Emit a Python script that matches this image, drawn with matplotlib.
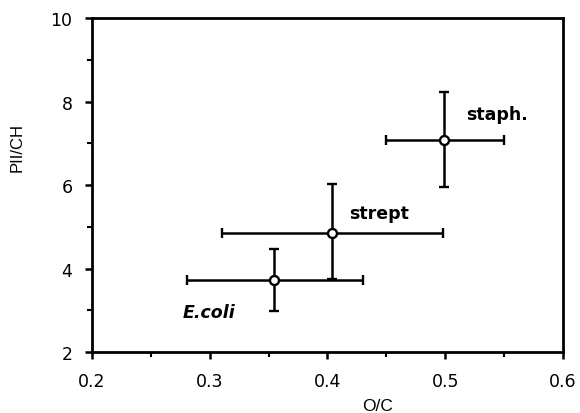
import matplotlib
matplotlib.use("Agg")
import matplotlib.pyplot as plt
from matplotlib.ticker import MultipleLocator

plt.rcParams['font.family'] = ['DejaVu Sans']

labels = ["E.coli", "strept", "staph."]
oc = [0.355, 0.404, 0.499]
pii_ch = [3.72, 4.86, 7.08]
oc_lo = [0.281, 0.310, 0.450]
oc_hi = [0.430, 0.498, 0.550]
y_lo = [2.98, 3.74, 5.95]
y_hi = [4.48, 6.03, 8.22]
label_x = [0.277, 0.418, 0.518]
label_y = [2.97, 5.33, 7.70]
label_style = ["italic", "normal", "normal"]

fig = plt.figure(figsize=(5.8, 4.14), dpi=100)
ax = fig.add_axes([0.1586, 0.147, 0.812, 0.807])

xerr = [[c - l for c, l in zip(oc, oc_lo)], [h - c for c, h in zip(oc, oc_hi)]]
yerr = [[c - l for c, l in zip(pii_ch, y_lo)], [h - c for c, h in zip(pii_ch, y_hi)]]
ax.errorbar(oc, pii_ch, xerr=xerr, yerr=yerr, fmt='o', color='black',
            ecolor='black', elinewidth=1.8, capsize=3.5, capthick=1.8,
            markerfacecolor='white', markeredgecolor='black', markersize=6.5,
            markeredgewidth=1.7, zorder=3)

for t, x, y, st in zip(labels, label_x, label_y, label_style):
    ax.text(x, y, t, fontsize=12.5, fontweight='bold', style=st,
            ha='left', va='center', family='DejaVu Sans')

ax.set_xlim(0.2, 0.6)
ax.set_ylim(2, 10)
ax.xaxis.set_major_locator(MultipleLocator(0.1))
ax.xaxis.set_minor_locator(MultipleLocator(0.05))
ax.yaxis.set_major_locator(MultipleLocator(2))
ax.yaxis.set_minor_locator(MultipleLocator(1))
ax.set_xticklabels([f"{v:.1f}" for v in ax.get_xticks()])
ax.tick_params(which='major', direction='out', length=5, width=1.8, labelsize=12.5)
ax.tick_params(axis='x', which='major', pad=9)
ax.tick_params(axis='y', which='major', pad=9)
ax.tick_params(which='minor', direction='out', length=3.5, width=1.5)
for s in ax.spines.values():
    s.set_linewidth(2.0)

ax.set_xlabel("O/C", fontsize=12.5, family='Liberation Sans')
ax.set_ylabel("PII/CH", fontsize=12, family='Liberation Sans')
ax.xaxis.set_label_coords(0.607, -0.137)
ax.yaxis.set_label_coords(-0.142, 0.617)

fig.savefig("out.png", dpi=100)
